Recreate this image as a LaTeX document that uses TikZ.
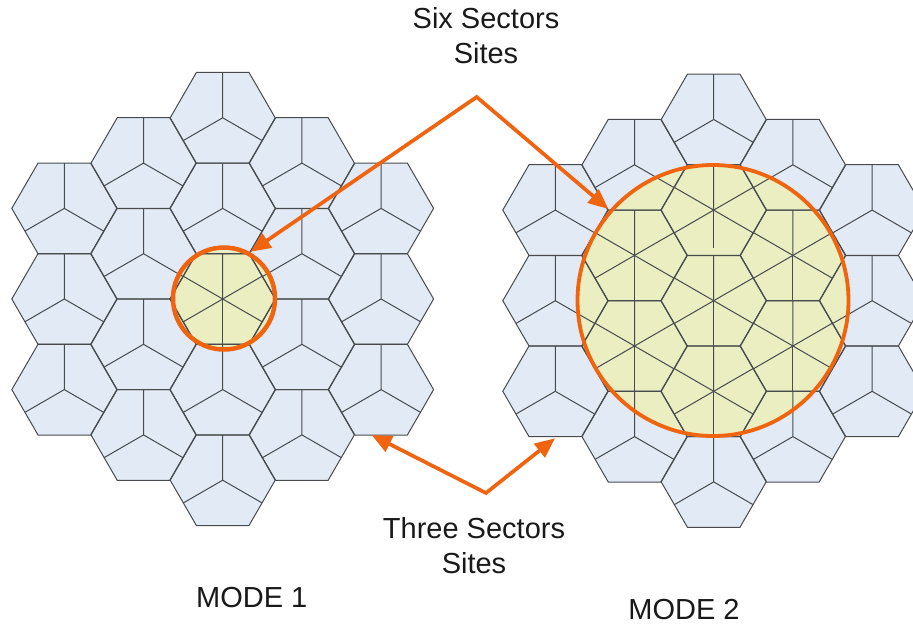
\documentclass[tikz,border=0pt]{standalone}
\usepackage{fontspec}
\setmainfont{Liberation Sans}
\usetikzlibrary{positioning, arrows.meta}
\definecolor{sitefill}{HTML}{E2EAF5}
\definecolor{siteline}{HTML}{474B4E}
\definecolor{zonefill}{HTML}{EAEEC0}
\definecolor{zoneline}{HTML}{F0640F}

\begin{document}
\begin{tikzpicture}[
        x=1pt, y=-1pt,
        spoke/.style={draw=siteline, line width=1pt},
        zone/.style={circle, inner sep=0pt, fill=zonefill},
        ring/.style={draw=zoneline},
        pointer/.style={draw=zoneline, line width=3.7pt, line join=miter, {Triangle[length=20pt, width=17pt]}-{Triangle[length=20pt, width=17pt]}},
        label/.style={font=\fontsize{29}{35}\selectfont, align=center, text=black!90},
        sitefloor/.pic={
            \fill[sitefill] (-52.5,0) -- (-26.25,-45.4) -- (26.25,-45.4) -- (52.5,0) -- (26.25,45.4) -- (-26.25,45.4) -- cycle;
        },
        threesite/.pic={
            \draw[spoke] (-52.5,0) -- (-26.25,-45.4) -- (26.25,-45.4) -- (52.5,0) -- (26.25,45.4) -- (-26.25,45.4) -- cycle;
            \draw[spoke] (0,0) -- (0,-45.4) (0,0) -- (-39.3,22.7) (0,0) -- (39.3,22.7);
        },
        extraspokes/.pic={
            \draw[spoke] (0,0) -- (39.3,-22.7) (0,0) -- (-39.3,-22.7);
        }
    ]
    \useasboundingbox (0,0) rectangle (913,626);

    % mode 1 and mode 2 clusters
    \foreach \cx/\cy in {222.7/299, 713.7/300.7} {
        \foreach \col/\rows in {-2/3, -1/4, 0/5, 1/4, 2/3} {
            \foreach \row in {1,...,\rows} {
                \pic at ({\cx+\col*79.2}, {\cy+(\row-(\rows+1)/2)*90.6}) {sitefloor};
            }
        }
    }

    % coverage zones
    \node[zone, minimum size=102pt] (zoneone) at (224,298.5) {};
    \node[zone, minimum size=271pt] (zonetwo) at (713,300.5) {};

    % site outlines on top of the zones
    \foreach \cx/\cy in {222.7/299, 713.7/300.7} {
        \foreach \col/\rows in {-2/3, -1/4, 0/5, 1/4, 2/3} {
            \foreach \row in {1,...,\rows} {
                \pic at ({\cx+\col*79.2}, {\cy+(\row-(\rows+1)/2)*90.6}) {threesite};
            }
        }
    }

    % extra sectors, mode 1
    \pic at (222.7,299) {extraspokes};
    \draw[spoke] (222.7,299) -- ++(0,45.4);

    % extra sectors, mode 2
    \foreach \cx/\cy in {713.7/300.7, 713.7/210.1, 713.7/391.3, 634.5/255.4, 634.5/346, 792.9/255.4, 792.9/346} {
        \pic at (\cx,\cy) {extraspokes};
    }
    \foreach \cx/\cy in {713.7/300.7, 713.7/391.3, 634.5/255.4, 634.5/346, 792.9/255.4, 792.9/346} {
        \draw[spoke] (\cx,\cy) -- ++(0,45.4);
    }
    \draw[spoke] (713.7,210.1) -- ++(0,38);

    % rings
    \draw[ring, line width=4.5pt] (zoneone.center) circle (51);
    \draw[ring, line width=3.8pt] (zonetwo.center) circle (135.5);

    % labels
    \node[label] (sixlabel) at (486,36) {Six Sectors\\Sites};
    \node[label] (threelabel) at (474,546) {Three Sectors\\Sites};
    \node[label, anchor=base] (modeone) at (251.7,607.3) {MODE 1};
    \node[label, anchor=base] (modetwo) at (684,619.7) {MODE 2};

    % pointers
    \coordinate (sixapex) at (476.7,97);
    \coordinate (threeapex) at (486,493);
    \coordinate (sixleft) at (250.7,251.7);
    \coordinate (sixright) at (608.3,209);
    \coordinate (threeleft) at (371.7,435);
    \coordinate (threeright) at (555,438.3);
    \draw[pointer] (sixleft) -- (sixapex) -- (sixright);
    \draw[pointer] (threeleft) -- (threeapex) -- (threeright);
\end{tikzpicture}
\end{document}
